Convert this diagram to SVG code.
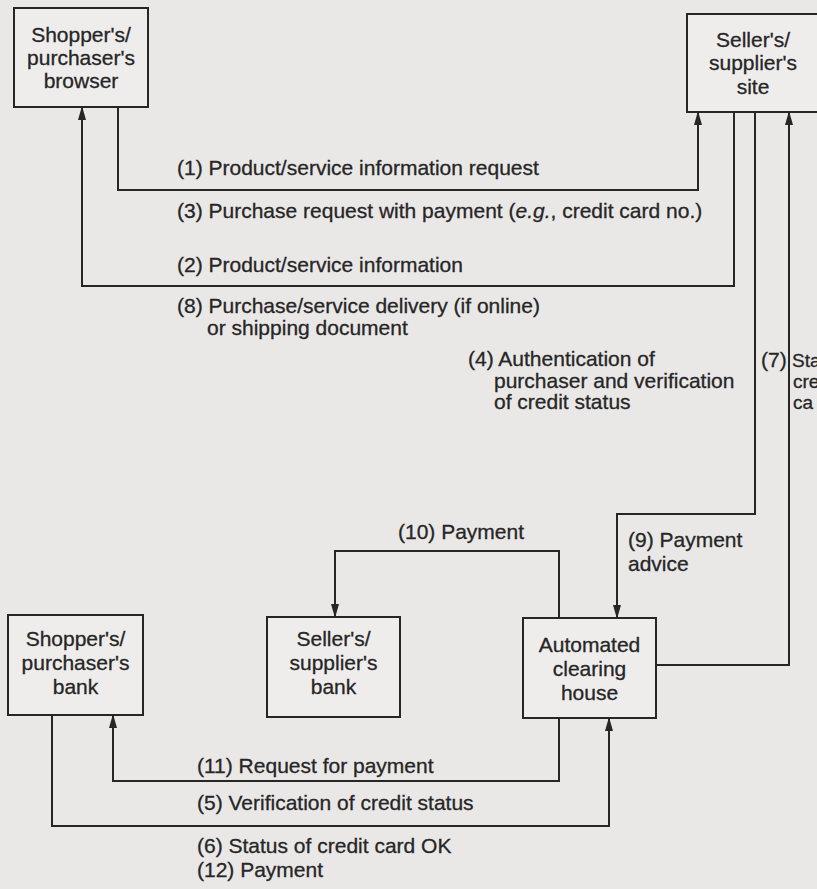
<svg xmlns="http://www.w3.org/2000/svg" width="817" height="889" viewBox="0 0 817 889">
<defs>
<marker id="arr" viewBox="0 0 14 8" markerWidth="14" markerHeight="8" refX="13" refY="4" orient="auto" markerUnits="userSpaceOnUse">
<path d="M0,0 L14,4 L0,8 z" fill="#262626"/>
</marker>
<style>
.box{fill:#efedec;stroke:#262626;stroke-width:2}
.con{fill:none;stroke:#262626;stroke-width:2}
.arr{marker-end:url(#arr)}
text{font-family:"Liberation Sans",Arial,sans-serif;font-size:21px;fill:#262626;stroke:#262626;stroke-width:0.3}
.c{text-anchor:middle}
.edge{font-size:19px}
</style>
</defs>
<rect width="817" height="889" fill="#eae8e7"/>

<g id="connectors">
<path class="con arr" d="M118,107 V190 H698 V112"/>
<path class="con arr" d="M734,112 V286 H82 V107"/>
<path class="con arr" d="M755,112 V514 H617 V618"/>
<path class="con arr" d="M656,665 H789 V112"/>
<path class="con arr" d="M559,618 V551 H335 V617"/>
<path class="con arr" d="M559,718 V781 H113 V715"/>
<path class="con arr" d="M52,715 V826 H609 V718"/>
</g>

<g id="labels">
<text x="177" y="175">(1) Product/service information request</text>
<text x="177" y="218">(3) Purchase request with payment (<tspan font-style="italic">e.g.</tspan>, credit card no.)</text>
<text x="177" y="272">(2) Product/service information</text>
<text x="177" y="313">(8) Purchase/service delivery (if online)</text>
<text x="207" y="335">or shipping document</text>
<text x="468" y="366">(4) Authentication of</text>
<text x="494" y="388">purchaser and verification</text>
<text x="494" y="409">of credit status</text>
<text x="761" y="367">(7)</text>
<text class="edge" x="792" y="367">Sta</text>
<text class="edge" x="793" y="388">cre</text>
<text class="edge" x="793" y="409">ca</text>
<text x="398" y="539">(10) Payment</text>
<text x="628" y="547">(9) Payment</text>
<text x="628" y="571">advice</text>
<text x="197" y="773">(11) Request for payment</text>
<text x="197" y="810">(5) Verification of credit status</text>
<text x="197" y="853">(6) Status of credit card OK</text>
<text x="197" y="877">(12) Payment</text>
</g>

<g id="browser">
<rect class="box" x="14" y="8" width="134" height="99"/>
<text class="c" x="81" y="42">Shopper's/</text>
<text class="c" x="81" y="65">purchaser's</text>
<text class="c" x="81" y="88">browser</text>
</g>

<g id="seller-site">
<path class="box" d="M817,14 H687 V112 H817"/>
<text class="c" x="753" y="47">Seller's/</text>
<text class="c" x="753" y="70">supplier's</text>
<text class="c" x="753" y="94">site</text>
</g>

<g id="shopper-bank">
<rect class="box" x="8" y="615" width="135" height="100"/>
<text class="c" x="75.5" y="646">Shopper's/</text>
<text class="c" x="75.5" y="670">purchaser's</text>
<text class="c" x="75.5" y="694">bank</text>
</g>

<g id="seller-bank">
<rect class="box" x="267" y="617" width="133" height="100"/>
<text class="c" x="333.5" y="646">Seller's/</text>
<text class="c" x="333.5" y="670">supplier's</text>
<text class="c" x="333.5" y="694">bank</text>
</g>

<g id="clearing-house">
<rect class="box" x="523" y="618" width="133" height="100"/>
<text class="c" x="589.5" y="652">Automated</text>
<text class="c" x="589.5" y="676">clearing</text>
<text class="c" x="589.5" y="700">house</text>
</g>
</svg>
